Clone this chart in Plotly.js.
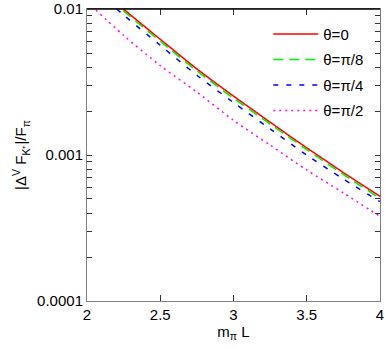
<!DOCTYPE html>
<html>
<head>
<meta charset="utf-8">
<script src="https://cdn.plot.ly/plotly-3.0.1.min.js"></script>
<style>
  html, body { margin: 0; padding: 0; background: #ffffff; }
  #chart { width: 385px; height: 348px; }
</style>
</head>
<body>
<div id="chart"></div>
<script>
var mL = [2.0, 2.25, 2.5, 2.75, 3.0, 3.25, 3.5, 3.75, 4.0];

// |Delta^V F_K+| / F_pi for each twist angle
var theta0   = [0.0166, 0.0100, 0.00621, 0.00389, 0.00253, 0.00168, 0.00112, 0.000759, 0.000520];
var thetaPi8 = [0.0161, 0.0097, 0.00602, 0.00377, 0.00245, 0.00163, 0.00109, 0.000736, 0.000505];
var thetaPi4 = [0.0150, 0.0091, 0.00565, 0.00352, 0.00229, 0.00151, 0.00100, 0.000685, 0.000480];
var thetaPi2 = [0.0112, 0.0066, 0.00410, 0.00270, 0.00173, 0.00117, 0.00079, 0.000550, 0.000380];

var seriesNames = ['θ=0', 'θ=π/8', 'θ=π/4', 'θ=π/2'];

var xTicks = [2, 2.5, 3, 3.5, 4];
var xTickText = ['2', '2.5', '3', '3.5', '4'];
var yTicks = [0.0001, 0.001, 0.01];
var yTickText = ['0.0001', '0.001', '0.01'];

// labelled decades plus unlabelled 2..9 ticks in between
var yTickVals = [];
var yTickLabels = [];
yTicks.forEach(function (d, i) {
    yTickVals.push(d);
    yTickLabels.push(yTickText[i]);
    if (i < yTicks.length - 1) {
        for (var k = 2; k <= 9; k++) {
            yTickVals.push(k * d);
            yTickLabels.push(' ');
        }
    }
});

var font = 'Liberation Sans, Arial, sans-serif';

function curve(y, name, color, dash) {
    return {
        x: mL,
        y: y,
        name: name,
        legendgroup: name,
        mode: 'lines',
        line: { color: color, width: 1.5, dash: dash, shape: 'spline', smoothing: 0.8 }
    };
}

var data = [
    curve(theta0, seriesNames[0], '#ff0000', 'solid'),
    curve(thetaPi8, seriesNames[1], '#00ee00', '10px,6px'),
    curve(thetaPi4, seriesNames[2], '#0000ff', '5px,8px'),
    curve(thetaPi2, seriesNames[3], '#ff00ff', '2px,4px')
];

var layout = {
    width: 385,
    height: 348,
    margin: { l: 87, r: 5, t: 9, b: 47 },
    paper_bgcolor: '#ffffff',
    plot_bgcolor: '#ffffff',
    font: { family: font, size: 15, color: '#000000' },
    showlegend: true,
    legend: {
        x: 0.96,
        y: 0.97,
        xanchor: 'right',
        yanchor: 'top',
        bgcolor: 'rgba(0,0,0,0)',
        font: { family: font, size: 15 },
        itemwidth: 45,
        tracegroupgap: 3
    },
    xaxis: {
        range: [2, 4],
        tickmode: 'array',
        tickvals: xTicks,
        ticktext: xTickText,
        ticks: 'inside',
        ticklen: 6,
        tickcolor: '#333333',
        showline: true,
        linecolor: '#808080',
        mirror: 'ticks',
        showgrid: false,
        zeroline: false,
        tickfont: { size: 15 },
        title: { text: 'm<sub>π</sub> L', font: { size: 15 }, standoff: 4 }
    },
    yaxis: {
        type: 'log',
        range: [-4, -1.9995],
        tickmode: 'array',
        tickvals: yTickVals,
        ticktext: yTickLabels,
        ticks: 'inside',
        ticklen: 5,
        tickcolor: '#333333',
        showline: true,
        linecolor: '#808080',
        mirror: 'ticks',
        showgrid: false,
        zeroline: false,
        tickfont: { size: 15 },
        title: { text: '|Δ<sup>V</sup> F<sub>K⁺</sub>|/F<sub>π</sub>', font: { size: 15 }, standoff: 6 }
    },
    shapes: [{
        type: 'line', xref: 'paper', yref: 'paper',
        x0: 0, x1: 1, y0: 1, y1: 1,
        line: { color: '#000000', width: 1.5 }
    }]
};

Plotly.newPlot('chart', data, layout, { displayModeBar: false });
</script>
</body>
</html>
